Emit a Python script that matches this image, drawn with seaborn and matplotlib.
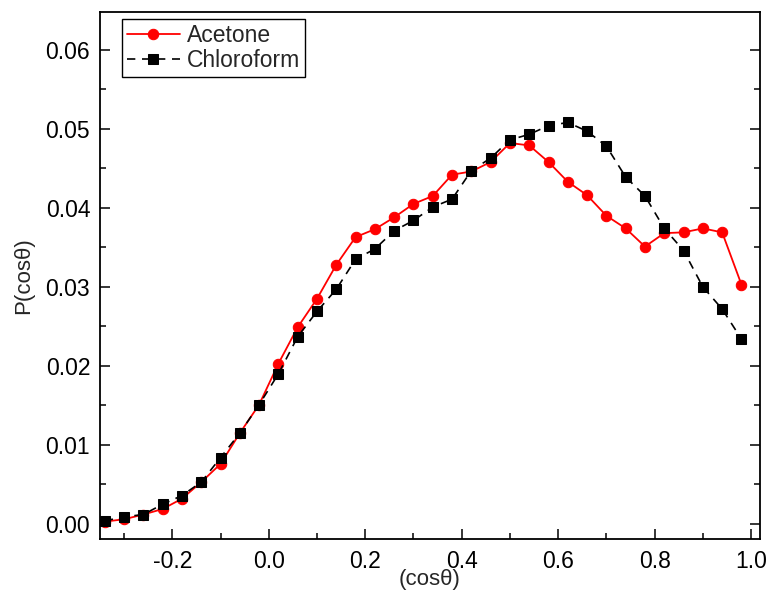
import matplotlib
matplotlib.use("Agg")
import matplotlib.pyplot as plt
from matplotlib.ticker import MultipleLocator, FormatStrFormatter
import seaborn as sns
import pandas as pd

cos_theta = [-0.34, -0.30, -0.26, -0.22, -0.18, -0.14, -0.10, -0.06, -0.02,
             0.02, 0.06, 0.10, 0.14, 0.18, 0.22, 0.26, 0.30, 0.34, 0.38,
             0.42, 0.46, 0.50, 0.54, 0.58, 0.62, 0.66, 0.70, 0.74, 0.78,
             0.82, 0.86, 0.90, 0.94, 0.98]
acetone = [0.0003, 0.0006, 0.0012, 0.0019, 0.0032, 0.0053, 0.0076, 0.0115, 0.0151,
           0.0203, 0.0249, 0.0285, 0.0328, 0.0363, 0.0373, 0.0388, 0.0405, 0.0415, 0.0442,
           0.0446, 0.0458, 0.0482, 0.0479, 0.0458, 0.0433, 0.0416, 0.0390, 0.0374, 0.0351,
           0.0368, 0.0369, 0.0374, 0.0369, 0.0303]
chloroform = [0.0004, 0.0009, 0.0012, 0.0025, 0.0036, 0.0053, 0.0084, 0.0115, 0.0151,
              0.0190, 0.0237, 0.0269, 0.0297, 0.0335, 0.0348, 0.0371, 0.0384, 0.0401, 0.0411,
              0.0447, 0.0463, 0.0486, 0.0493, 0.0504, 0.0508, 0.0497, 0.0478, 0.0439, 0.0415,
              0.0374, 0.0346, 0.0300, 0.0272, 0.0234]

sns.set_theme(style="white")
plt.rcParams['font.family'] = ['Liberation Sans', 'DejaVu Sans']

fig = plt.figure(figsize=(7.69, 5.92), dpi=100)
ax = fig.add_axes([0.130, 0.0895, 0.858, 0.8905])

df_a = pd.DataFrame({"x": cos_theta, "y": acetone})
df_c = pd.DataFrame({"x": cos_theta, "y": chloroform})

sns.lineplot(data=df_a, x="x", y="y", ax=ax, color="#ff0000", linewidth=1.3,
             marker="o", markersize=7.5, markeredgecolor="#ff0000", label="Acetone")
sns.lineplot(data=df_c, x="x", y="y", ax=ax, color="black", linewidth=1.2,
             marker="s", markersize=6.5, markeredgecolor="black", label="Chloroform")
ax.lines[1].set_dashes([5, 4])

ax.set_xlim(-0.35, 1.018)
ax.set_ylim(-0.0019, 0.0648)
ax.xaxis.set_major_locator(MultipleLocator(0.2))
ax.xaxis.set_minor_locator(MultipleLocator(0.1))
ax.yaxis.set_major_locator(MultipleLocator(0.01))
ax.yaxis.set_minor_locator(MultipleLocator(0.005))
ax.xaxis.set_major_formatter(FormatStrFormatter('%.1f'))
ax.yaxis.set_major_formatter(FormatStrFormatter('%.2f'))

ax.tick_params(which="both", direction="in", left=True, right=True, bottom=True, top=False,
               colors="black", width=1.1)
ax.tick_params(which="major", length=7, labelsize=16.5)
ax.tick_params(axis="x", which="major", pad=8)
ax.tick_params(axis="y", which="major", pad=7)
ax.tick_params(which="minor", length=4.5)
for s in ax.spines.values():
    s.set_color("black")
    s.set_linewidth(1.3)

ax.set_xlabel("(cosθ)", fontsize=16, labelpad=-3)
ax.set_ylabel("P(cosθ)", fontsize=16, labelpad=8)

leg = ax.legend(loc="upper left", bbox_to_anchor=(0.0333, 0.9867), borderaxespad=0,
                fontsize=16.5, frameon=True, fancybox=False,
                edgecolor="black", framealpha=1, handlelength=2.3, borderpad=0.22,
                labelspacing=0.1, handletextpad=0.3)
leg.get_frame().set_linewidth(1.0)

fig.savefig("out.png", dpi=100)
